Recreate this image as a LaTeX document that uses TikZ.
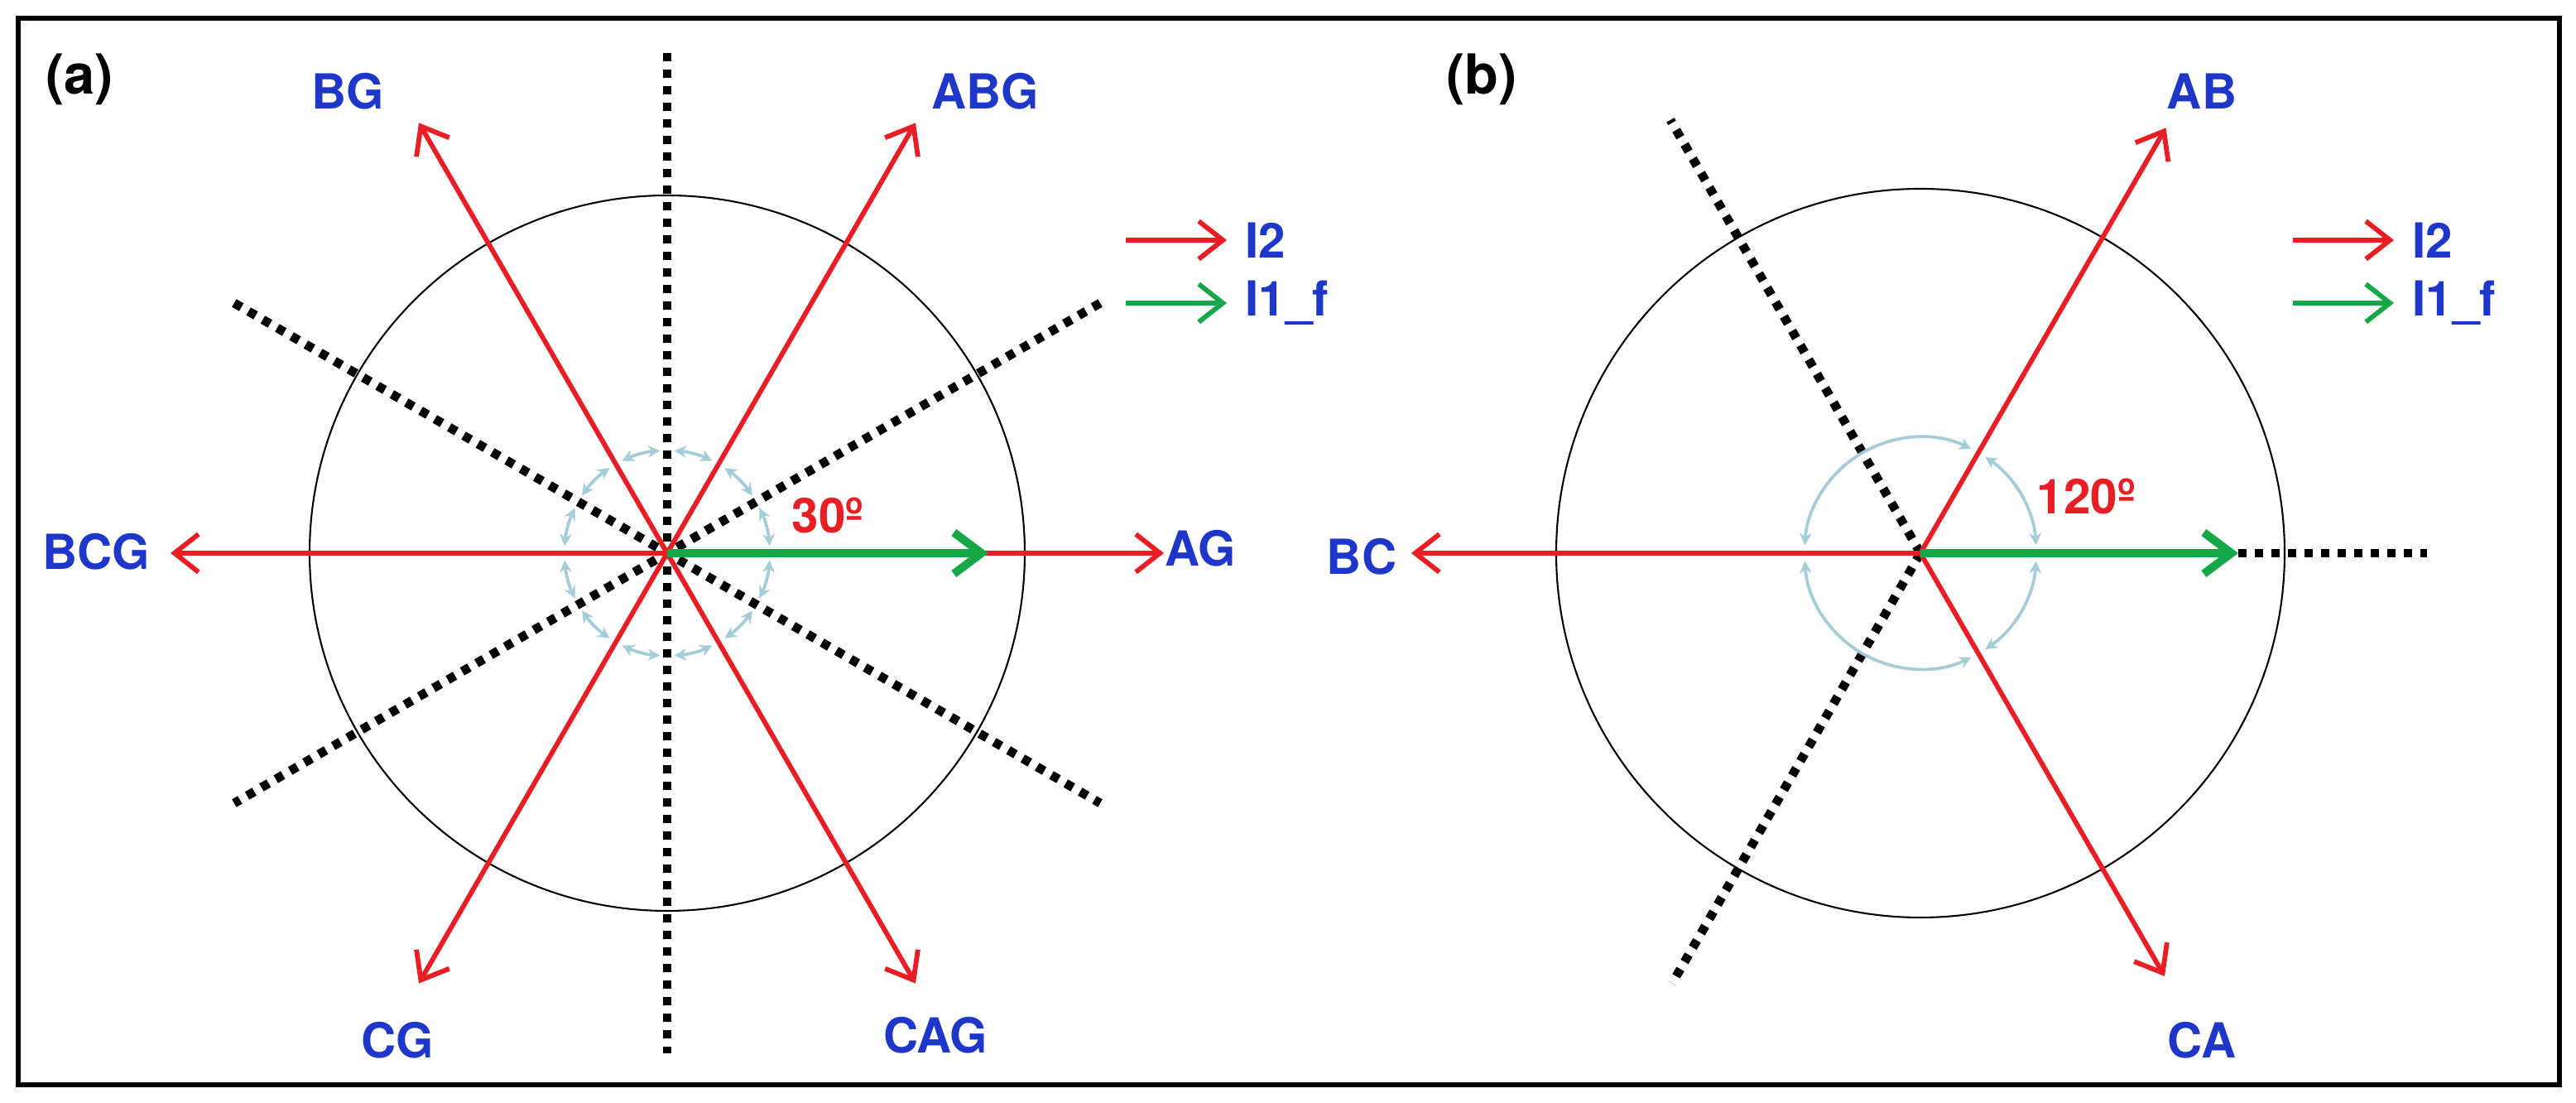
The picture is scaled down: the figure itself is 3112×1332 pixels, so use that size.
\documentclass[tikz,border=0pt]{standalone}
\usepackage{fontspec}
\setmainfont{TeX Gyre Heros}
\usetikzlibrary{arrows.meta,calc}
\definecolor{rd}{RGB}{232,30,36}
\definecolor{gr}{RGB}{22,168,72}
\definecolor{bl}{RGB}{30,55,200}
\definecolor{lb}{RGB}{165,205,215}
\begin{document}
\begin{tikzpicture}[x=0.24pt,y=0.24pt,
  vec/.style={rd,line width=1.4pt,-{Straight Barb[length=7pt,width=11pt,line width=1.4pt]}},
  gvec/.style={gr,line width=2.4pt,-{Straight Barb[length=8pt,width=12pt,line width=2.4pt]}},
  dot/.style={black,line width=2.6pt,dash pattern=on 2.4pt off 2.4pt},
  ring/.style={black,line width=0.5pt},
  ang/.style={lb,line width=0.9pt,{Stealth[length=3.5pt,width=3.5pt]}-{Stealth[length=3.5pt,width=3.5pt]}},
  lab/.style={bl,font=\fontsize{14}{16}\selectfont\bfseries},
  deg/.style={rd,font=\fontsize{14}{16}\selectfont\bfseries},
  tag/.style={black,font=\fontsize{16}{18}\selectfont\bfseries}]
\useasboundingbox (0,0) rectangle (3112,1332);
\draw[line width=1.4pt] (22,22) rectangle (3092,1310);
% ---------- (a)
\coordinate (ca) at (806,664);
\node[tag] (ta) at (96,1236) {(a)};
\draw[ring] (ca) circle (432);
\foreach \a in {30,90,150}{
  \coordinate (p\a) at ($(ca)+(\a:604)$);
  \coordinate (q\a) at ($(ca)+(\a+180:604)$);
  \draw[dot] (p\a) -- (q\a);}
\foreach \a in {0,30,...,330}{
  \draw[ang] ($(ca)+(\a+4:124)$) arc[start angle=\a+4,end angle=\a+26,radius=124];}
\foreach \a/\n in {0/AG,60/ABG,120/BG,180/BCG,240/CG,300/CAG}{
  \coordinate (t\n) at ($(ca)+(\a:600)$);
  \draw[vec] (ca) -- (t\n);}
\coordinate (ga) at ($(ca)+(0:388)$);
\draw[gvec] (ca) -- (ga);
\node[lab] (lAG) at (1450,670) {AG};
\node[lab] (lABG) at (1190,1222) {ABG};
\node[lab] (lBG) at (420,1222) {BG};
\node[lab] (lBCG) at (116,666) {BCG};
\node[lab] (lCG) at (480,76) {CG};
\node[lab] (lCAG) at (1130,82) {CAG};
\node[deg] (d30) at (1000,709) {30º};
\coordinate (r1a) at (1360,1042); \coordinate (r2a) at (1482,1042);
\draw[vec] (r1a) -- (r2a);
\node[lab,anchor=west] (i2a) at (1490,1042) {I2};
\coordinate (g1a) at (1360,966); \coordinate (g2a) at (1482,966);
\draw[vec,gr] (g1a) -- (g2a);
\node[lab,anchor=west] (i1a) at (1490,966) {I1\_f};
% ---------- (b)
\coordinate (cb) at (2320,664);
\node[tag] (tb) at (1790,1236) {(b)};
\draw[ring] (cb) circle (440);
\foreach \a/\l in {120/604,240/600}{
  \coordinate (e\a) at ($(cb)+(\a:\l)$);
  \draw[dot] (cb) -- (e\a);}
\coordinate (h1) at ($(cb)+(0:384)$);
\coordinate (h2) at ($(cb)+(0:612)$);
\draw[dot] (h1) -- (h2);
\foreach \s/\e in {4/56,64/176,184/296,304/356}{
  \draw[ang] ($(cb)+(\s:140)$) arc[start angle=\s,end angle=\e,radius=140];}
\coordinate (tAB) at ($(cb)+(60:593)$);
\coordinate (tBC) at ($(cb)+(180:615)$);
\coordinate (tCA) at ($(cb)+(300:590)$);
\draw[vec] (cb) -- (tAB);
\draw[vec] (cb) -- (tBC);
\draw[vec] (cb) -- (tCA);
\coordinate (gb) at ($(cb)+(0:384)$);
\draw[gvec] (cb) -- (gb);
\node[lab] (lAB) at (2660,1222) {AB};
\node[lab] (lBC) at (1645,660) {BC};
\node[lab] (lCA) at (2660,76) {CA};
\node[deg] (d120) at (2520,732) {120º};
\coordinate (r1b) at (2770,1042); \coordinate (r2b) at (2892,1042);
\draw[vec] (r1b) -- (r2b);
\node[lab,anchor=west] (i2b) at (2900,1042) {I2};
\coordinate (g1b) at (2770,966); \coordinate (g2b) at (2892,966);
\draw[vec,gr] (g1b) -- (g2b);
\node[lab,anchor=west] (i1b) at (2900,966) {I1\_f};
\end{tikzpicture}
\end{document}
